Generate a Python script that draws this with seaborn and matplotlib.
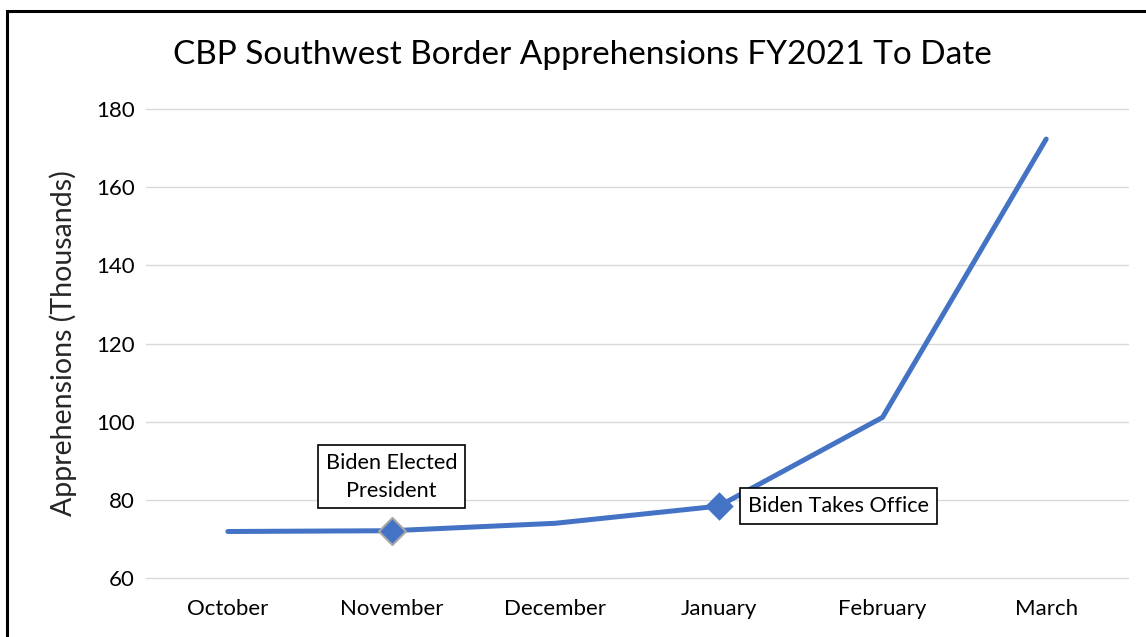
import pandas as pd
import seaborn as sns
import matplotlib.pyplot as plt
from matplotlib.patches import Rectangle

# Monthly apprehensions, thousands
months = ['October', 'November', 'December', 'January', 'February', 'March']
apprehensions = [71.9, 72.1, 74.0, 78.4, 101.1, 172.3]

# Events to highlight
event_months = ['November', 'January']
event_labels = ['Biden Elected\nPresident', 'Biden Takes Office']

df = pd.DataFrame({'month': months, 'value': apprehensions})
df_events = df[df['month'].isin(event_months)]

sns.set_theme(style="white")
plt.rcParams['font.family'] = ['Lato', 'DejaVu Sans']

fig = plt.figure(figsize=(11.46, 6.37), dpi=100)
ax = fig.add_axes([0.1274, 0.0926, 0.8569, 0.7363])

blue = '#4472C4'
sns.lineplot(x='month', y='value', data=df, ax=ax, color=blue, linewidth=3.6, sort=False)

# Diamond markers for the events
nov = df_events[df_events['month'] == 'November']
jan = df_events[df_events['month'] == 'January']
sns.scatterplot(x='month', y='value', data=nov, ax=ax, marker='D', s=190,
                color=blue, edgecolor='#A6A6A6', linewidth=1.5, zorder=5)
sns.scatterplot(x='month', y='value', data=jan, ax=ax, marker='D', s=210,
                color=blue, edgecolor=blue, linewidth=0, zorder=5)

ax.set_xlim(-0.5, len(months) - 0.5)
ax.set_ylim(60, 180)
ax.set_yticks(range(60, 181, 20))
ax.yaxis.grid(True, color='#D9D9D9', linewidth=1.0)
for gl in ax.get_ygridlines():
    gl.set_clip_on(False)
ax.set_axisbelow(True)
for s in ax.spines.values():
    s.set_visible(False)
ax.tick_params(axis='x', labelsize=16, pad=15, length=0, colors='black')
ax.tick_params(axis='y', labelsize=16, pad=8, length=0, colors='black')
ax.set_xlabel('')
ax.set_ylabel('Apprehensions (Thousands)', fontsize=20.5, labelpad=14)

# Annotation boxes
box = dict(boxstyle='square,pad=0.36', facecolor='white', edgecolor='black', linewidth=1.2)
offsets = [(0, 39), (86, 0)]
for (_, row), label, off in zip(df_events.iterrows(), event_labels, offsets):
    ax.annotate(label, xy=(months.index(row['month']), row['value']),
                xytext=off, textcoords='offset points', ha='center', va='center',
                fontsize=15.6, linespacing=1.5, bbox=box, zorder=6, color='black')

fig.text(0.508, 0.914, 'CBP Southwest Border Apprehensions FY2021 To Date',
         ha='center', va='center', fontsize=24, color='black')

# Outer chart frame (left and top edges visible)
frame = Rectangle((7.3 / 1146, -0.1), 1.2, 1.1 - 11 / 637, transform=fig.transFigure,
                  fill=False, edgecolor='black', linewidth=2.2, clip_on=False)
fig.patches.append(frame)

fig.savefig('out.png', dpi=100)
